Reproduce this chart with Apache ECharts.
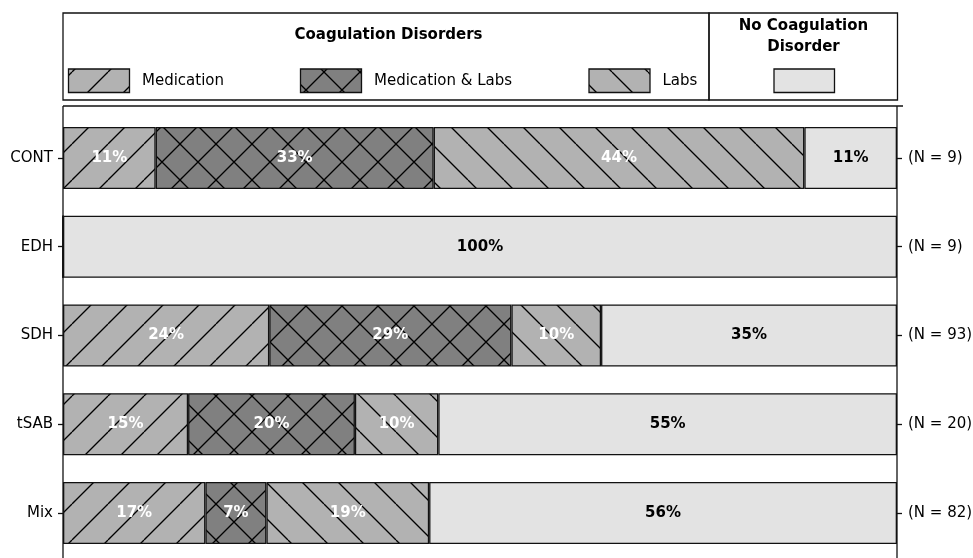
<!DOCTYPE html>
<html>
<head>
<meta charset="utf-8">
<script src="https://cdn.jsdelivr.net/npm/echarts@6/dist/echarts.min.js"></script>
<style>
  html, body { margin: 0; padding: 0; background: #fff; }
  #chart { width: 973px; height: 558px; }
</style>
</head>
<body>
<div id="chart"></div>
<script>
// Injury types and patient counts per coagulation status
const categories = ['CONT', 'EDH', 'SDH', 'tSAB', 'Mix'];
const totals = [9, 9, 93, 20, 82];
const medication = [1, 0, 23, 3, 14];
const medicationAndLabs = [3, 0, 27, 4, 6];
const labs = [4, 0, 10, 2, 16];
const noCoagulation = [1, 9, 33, 11, 46];

const seriesNames = ['Medication', 'Medication & Labs', 'Labs', 'No Coagulation Disorder'];
const nLabels = totals.map(n => '(N = ' + n + ')');

const toPercent = counts => counts.map((c, i) => c / totals[i] * 100);

const FONT = 'DejaVu Sans';
const EDGE = '#111';
const FS = 15;

// Hatch tiles: grey fill with black diagonal strokes
function hatchTile(bg, forward, backward) {
  const s = 36;
  const c = document.createElement('canvas');
  c.width = s; c.height = s;
  const g = c.getContext('2d');
  g.fillStyle = bg;
  g.fillRect(0, 0, s, s);
  g.strokeStyle = '#000';
  g.lineWidth = 1.35;
  g.beginPath();
  for (const k of [-s, 0, s]) {
    if (forward) { g.moveTo(k, s); g.lineTo(k + s, 0); }
    if (backward) { g.moveTo(k, 0); g.lineTo(k + s, s); }
  }
  g.stroke();
  return { image: c, repeat: 'repeat' };
}

const fills = [
  hatchTile('#b2b2b2', true, false),
  hatchTile('#808080', true, true),
  hatchTile('#b2b2b2', false, true),
  '#e3e3e3'
];
const labelColors = ['#fff', '#fff', '#fff', '#000'];
const seriesData = [medication, medicationAndLabs, labs, noCoagulation].map(toPercent);

const chart = echarts.init(document.getElementById('chart'), null, { renderer: 'canvas' });

const series = seriesData.map((vals, i) => ({
  name: seriesNames[i],
  type: 'bar',
  stack: 'total',
  barWidth: '70%',
  data: vals,
  itemStyle: { color: fills[i], borderColor: EDGE, borderWidth: 1.3 },
  label: {
    show: true,
    position: 'inside',
    color: labelColors[i],
    fontFamily: FONT,
    fontWeight: 'bold',
    fontSize: FS,
    formatter: p => p.value > 0 ? Math.floor(p.value + 1e-9) + '%' : ''
  },
  emphasis: { disabled: true },
  silent: true
}));

// Legend box drawn above the plot
const legendY = 69, legendH = 23.5, patchW = 61;
const legendItems = [
  { x: 68.5, text: 'Medication', fill: fills[0] },
  { x: 300.5, text: 'Medication & Labs', fill: fills[1] },
  { x: 589, text: 'Labs', fill: fills[2] }
];
const graphics = [
  { type: 'rect', shape: { x: 63, y: 13, width: 646, height: 87 }, style: { fill: 'none', stroke: EDGE, lineWidth: 1.3 } },
  { type: 'rect', shape: { x: 709, y: 13, width: 188.5, height: 87 }, style: { fill: 'none', stroke: EDGE, lineWidth: 1.3 } },
  { type: 'text', x: 388.5, y: 35, style: { text: 'Coagulation Disorders', fontFamily: FONT, fontWeight: 'bold', fontSize: FS, fill: '#000', textAlign: 'center', textVerticalAlign: 'middle' } },
  { type: 'text', x: 803.5, y: 36.5, style: { text: 'No Coagulation\nDisorder', fontFamily: FONT, fontWeight: 'bold', fontSize: FS, lineHeight: 20.5, fill: '#000', textAlign: 'center', textVerticalAlign: 'middle' } },
  { type: 'rect', shape: { x: 774, y: legendY, width: patchW - 0.5, height: legendH }, style: { fill: fills[3], stroke: EDGE, lineWidth: 1.3 } },
  // plot frame
  { type: 'line', shape: { x1: 63, y1: 106, x2: 903, y2: 106 }, style: { stroke: EDGE, lineWidth: 1.3 } },
  { type: 'line', shape: { x1: 63, y1: 106, x2: 63, y2: 558 }, style: { stroke: EDGE, lineWidth: 1.3 } },
  { type: 'line', shape: { x1: 897, y1: 106, x2: 897, y2: 558 }, style: { stroke: EDGE, lineWidth: 1.3 } }
];
legendItems.forEach(it => {
  graphics.push({ type: 'rect', shape: { x: it.x, y: legendY, width: patchW, height: legendH }, style: { fill: it.fill, stroke: EDGE, lineWidth: 1.3 } });
  graphics.push({ type: 'text', x: it.x + patchW + 12.5, y: legendY + legendH / 2, style: { text: it.text, fontFamily: FONT, fontSize: FS, fill: '#000', textVerticalAlign: 'middle' } });
});

chart.setOption({
  animation: false,
  backgroundColor: '#fff',
  grid: { left: 63, right: 76, top: 113.6, height: 443.75, containLabel: false, outerBoundsMode: 'none' },
  xAxis: { type: 'value', min: 0, max: 100, show: false },
  yAxis: [
    {
      type: 'category', data: categories, inverse: true, position: 'left',
      axisLine: { show: false },
      axisTick: { show: true, alignWithLabel: true, length: 5, lineStyle: { color: EDGE, width: 1.3 } },
      axisLabel: { color: '#000', fontFamily: FONT, fontSize: FS, margin: 10 },
      splitLine: { show: false }
    },
    {
      type: 'category', data: nLabels, inverse: true, position: 'right',
      axisLine: { show: false },
      axisTick: { show: true, alignWithLabel: true, length: 5, lineStyle: { color: EDGE, width: 1.3 } },
      axisLabel: { color: '#000', fontFamily: FONT, fontSize: FS, margin: 11 },
      splitLine: { show: false }
    }
  ],
  series: series,
  graphic: graphics
});
</script>
</body>
</html>
